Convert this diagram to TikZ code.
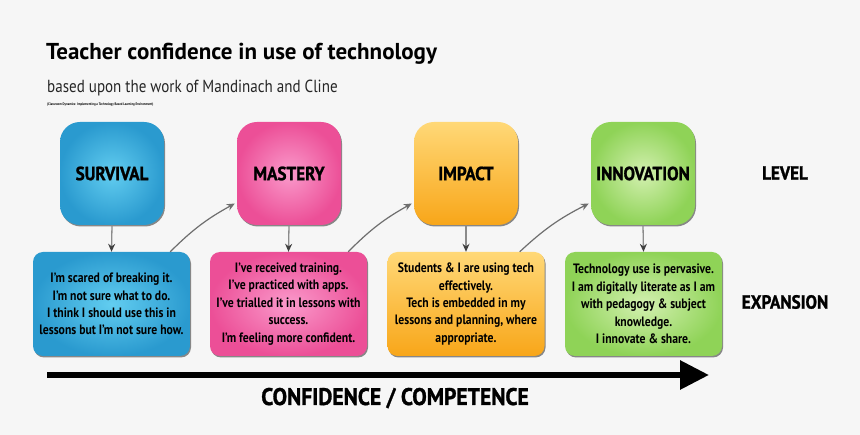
\documentclass[tikz,border=0pt]{standalone}
\usepackage{fontspec}
\setmainfont{PT Sans}[FakeStretch=0.86]
\newfontfamily\wide{PT Sans}
\newfontfamily\heavy{PT Sans}[FakeStretch=0.9,BoldFeatures={FakeBold=1.2}]
\usetikzlibrary{arrows.meta,shadows,positioning}
\definecolor{bg}{HTML}{F6F6F6}
\definecolor{blueA}{HTML}{62CDF0}
\definecolor{blueB}{HTML}{2A9ACF}
\definecolor{pinkA}{HTML}{FA9ACB}
\definecolor{pinkB}{HTML}{EC4F97}
\definecolor{orA}{HTML}{FFD877}
\definecolor{orB}{HTML}{F8A619}
\definecolor{grA}{HTML}{D3F0B0}
\definecolor{grB}{HTML}{8FD357}
\definecolor{arr}{HTML}{6E6E6E}
\tikzset{
  lvl/.style={minimum width=104pt,minimum height=103pt,rounded corners=20pt,
    font=\heavy\fontsize{19}{21}\selectfont\bfseries,
    drop shadow={shadow xshift=1pt,shadow yshift=-1.5pt,opacity=0.45,fill=black}},
  exp/.style={minimum width=157pt,minimum height=104pt,rounded corners=10pt,align=center,
    font=\fontsize{13.6}{17.4}\selectfont\bfseries,inner sep=1pt,
    drop shadow={shadow xshift=1pt,shadow yshift=-1.5pt,opacity=0.45,fill=black}},
  cblue/.style={inner color=blueA,outer color=blueB},
  cpink/.style={inner color=pinkA,outer color=pinkB},
  corange/.style={top color=orA,bottom color=orB},
  cgreen/.style={inner color=grA,outer color=grB},
  down/.style={draw=arr!80,line width=1.3pt,-{Stealth[length=8pt,width=7pt,color=black!75]}},
  curve/.style={draw=arr,line width=1.2pt,-{Stealth[length=8pt,width=7pt]}},
  side/.style={font=\heavy\fontsize{19}{21}\selectfont\bfseries},
}
\begin{document}
\begin{tikzpicture}[x=1pt,y=-1pt]
\fill[bg] (0,0) rectangle (860,435);
\useasboundingbox (0,0) rectangle (860,435);
% titles
\node[anchor=base west,inner sep=0,font=\wide\fontsize{23}{25}\selectfont\bfseries] (title) at (46,60) {Teacher confidence in use of technology};
\node[anchor=base west,inner sep=0,font=\fontsize{17.5}{19}\selectfont,text=black!85] (sub) at (47,93) {based upon the work of Mandinach and Cline};
\node[anchor=base west,inner sep=0,font=\fontsize{3.6}{4}\selectfont\bfseries] (ref) at (47,106) {(Classroom Dynamics: Implementing a Technology Based Learning Environment)};
% level boxes
\node[lvl,cblue] (t1) at (112,173.5) {SURVIVAL};
\node[lvl,cpink] (t2) at (289,173.5) {MASTERY};
\node[lvl,corange] (t3) at (466,173.5) {IMPACT};
\node[lvl,cgreen] (t4) at (643,173.5) {INNOVATION};
% expansion boxes
\node[exp,cblue] (b1) at (111.5,304) {I'm scared of breaking it.\\I'm not sure what to do.\\I think I should use this in\\lessons but I'm not sure how.};
\node[exp,cpink] (b2) at (288.5,304) {I've received training.\\I've practiced with apps.\\I've trialled it in lessons with\\success.\\I'm feeling more confident.};
\node[exp,corange] (b3) at (466,304) {Students \& I are using tech\\effectively.\\Tech is embedded in my\\lessons and planning, where\\appropriate.};
\node[exp,cgreen] (b4) at (643.5,304) {Technology use is pervasive.\\I am digitally literate as I am\\with pedagogy \& subject\\knowledge.\\I innovate \& share.};
% down arrows
\foreach \i in {1,2,3,4} \draw[down] (t\i.south) -- (b\i.north);
% curved arrows
\draw[curve] ([xshift=-20pt]b1.north east) to[bend left=8] ([xshift=-2pt,yshift=-30pt]t2.west);
\draw[curve] ([xshift=-19pt]b2.north east) to[bend left=8] ([xshift=-2pt,yshift=-30pt]t3.west);
\draw[curve] ([xshift=-25pt]b3.north east) to[bend left=8] ([xshift=-2pt,yshift=-30pt]t4.west);
% side labels
\node[side] (lev) at (785,173) {LEVEL};
\node[side] (expn) at (785,302) {EXPANSION};
% big arrow
\coordinate (a0) at (47,375);
\coordinate (a1) at (709,375);
\draw[line width=6pt,-{Triangle[length=29pt,width=28pt]}] (a0) -- (a1);
\node[font=\heavy\fontsize{24}{26}\selectfont\bfseries,anchor=base] (cc) at (395,405) {CONFIDENCE / COMPETENCE};
\end{tikzpicture}
\end{document}
